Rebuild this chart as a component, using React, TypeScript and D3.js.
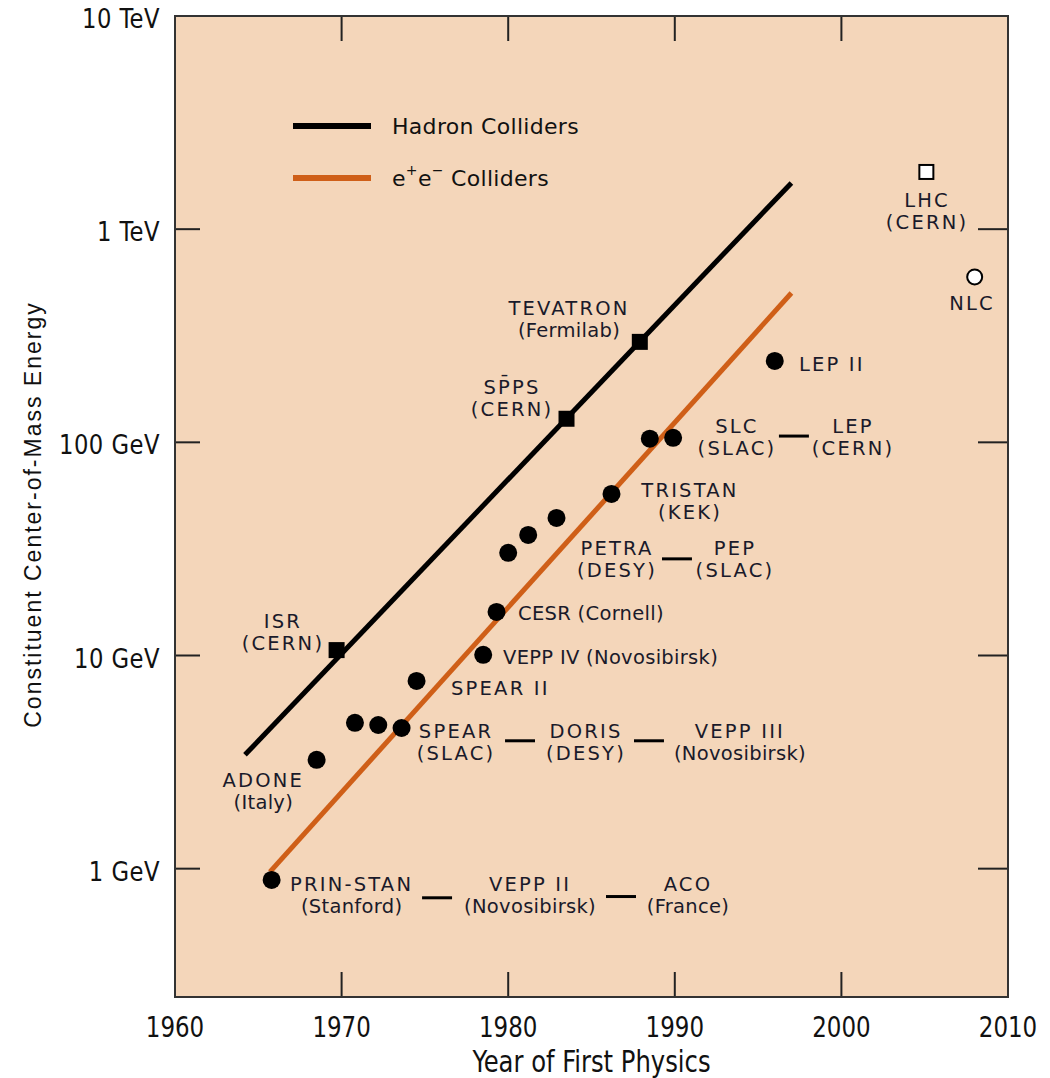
import React, { useEffect } from "react";
import * as d3 from "d3";

// ---------- data ----------
const yearTicks = [1960, 1970, 1980, 1990, 2000, 2010];
const energyTicks = [1, 10, 100, 1000, 10000];
const energyTickLabels = ["1 GeV", "10 GeV", "100 GeV", "1 TeV", "10 TeV"];

// fitted trend lines [year, GeV]
const hadronTrend: [number, number][] = [[1964.2, 3.42], [1997.0, 1648]];
const eeTrend: [number, number][] = [[1965.7, 0.966], [1997.0, 502]];

// hadron colliders (filled squares)
const hadronNames = ["ISR", "SPPS", "TEVATRON"];
const hadronYears = [1969.7, 1983.5, 1987.9];
const hadronEnergies = [10.6, 129, 296];

// e+e- colliders (filled circles)
const eeNames = ["PRIN-STAN", "ADONE", "VEPP II", "ACO", "SPEAR", "SPEAR II", "VEPP IV", "CESR", "PETRA", "PEP", "DORIS", "TRISTAN", "SLC", "LEP", "LEP II"];
const eeYears = [1965.8, 1968.5, 1970.8, 1972.2, 1973.6, 1974.5, 1978.5, 1979.3, 1980.0, 1981.2, 1982.9, 1986.2, 1988.5, 1989.9, 1996.0];
const eeEnergies = [0.885, 3.24, 4.83, 4.72, 4.57, 7.6, 10.07, 16.0, 30.3, 36.8, 44.2, 57.3, 104, 105, 241];

// future machines (open markers)
const lhc = { year: 2005.1, gev: 1855 };
const nlc = { year: 2008.0, gev: 597 };

// text annotations in data coordinates (year, GeV)
const labels: { lines: string[]; year: number; gev: number; anchor: string }[] = [
  { lines: ["TEVATRON", "(Fermilab)"], year: 1983.65, gev: 375, anchor: "middle" },
  { lines: ["SP\u0304PS", "(CERN)"], year: 1980.23, gev: 161, anchor: "middle" },
  { lines: ["ISR", "(CERN)"], year: 1966.48, gev: 12.8, anchor: "middle" },
  { lines: ["ADONE", "(Italy)"], year: 1965.3, gev: 2.29, anchor: "middle" },
  { lines: ["LHC", "(CERN)"], year: 2005.14, gev: 1205, anchor: "middle" },
  { lines: ["NLC"], year: 2007.84, gev: 446, anchor: "middle" },
  { lines: ["LEP II"], year: 1997.45, gev: 233, anchor: "start" },
  { lines: ["SLC", "(SLAC)"], year: 1993.73, gev: 105, anchor: "middle" },
  { lines: ["LEP", "(CERN)"], year: 2000.7, gev: 105, anchor: "middle" },
  { lines: ["TRISTAN", "(KEK)"], year: 1990.91, gev: 52.5, anchor: "middle" },
  { lines: ["PETRA", "(DESY)"], year: 1986.53, gev: 28.1, anchor: "middle" },
  { lines: ["PEP", "(SLAC)"], year: 1993.61, gev: 28.1, anchor: "middle" },
  { lines: ["CESR (Cornell)"], year: 1980.59, gev: 15.7, anchor: "start" },
  { lines: ["VEPP IV (Novosibirsk)"], year: 1979.69, gev: 9.75, anchor: "start" },
  { lines: ["SPEAR II"], year: 1976.57, gev: 6.97, anchor: "start" },
  { lines: ["SPEAR", "(SLAC)"], year: 1976.87, gev: 3.89, anchor: "middle" },
  { lines: ["DORIS", "(DESY)"], year: 1984.67, gev: 3.89, anchor: "middle" },
  { lines: ["VEPP III", "(Novosibirsk)"], year: 1993.91, gev: 3.89, anchor: "middle" },
  { lines: ["PRIN-STAN", "(Stanford)"], year: 1970.6, gev: 0.745, anchor: "middle" },
  { lines: ["VEPP II", "(Novosibirsk)"], year: 1981.31, gev: 0.745, anchor: "middle" },
  { lines: ["ACO", "(France)"], year: 1990.79, gev: 0.745, anchor: "middle" },
];

// "same-generation" connector dashes [yearStart, yearEnd, GeV]
const dashes: [number, number, number][] = [
  [1996.25, 1998.05, 107],
  [1989.23, 1991.03, 28.4],
  [1979.81, 1981.61, 3.98],
  [1987.55, 1989.35, 3.98],
  [1974.83, 1976.63, 0.73],
  [1985.87, 1987.67, 0.74],
];

const legendItems = [
  { key: "hadron", color: "#000000" },
  { key: "ee", color: "#CF5F18" },
];

// ---------- chart ----------
const W = 1050;
const H = 1078;
const M = { left: 175, right: 42, top: 16, bottom: 81 };
const BG = "#F4D6BA";
const ORANGE = "#CF5F18";
const LABEL_FONT = "'DejaVu Sans', Verdana, sans-serif";
const AXIS_FONT = "'Liberation Sans Narrow', 'DejaVu Sans Condensed', 'Liberation Sans', sans-serif";

export default function App() {
  useEffect(() => {
    document.body.style.margin = "0";
  }, []);

  const x = d3.scaleLinear().domain([1960, 2010]).range([M.left, W - M.right]);
  const y = d3.scaleLog().domain([0.25, 10000]).range([H - M.bottom, M.top]);
  const line = d3
    .line<[number, number]>()
    .x((d) => x(d[0]))
    .y((d) => y(d[1]));

  const x0 = M.left, x1 = W - M.right, y0 = M.top, y1 = H - M.bottom;
  const tickLen = 25;

  const isCaps = (s: string) => s === s.toUpperCase();

  return (
    <svg width={W} height={H} style={{ display: "block", background: "#fff" }}>
      <rect x={x0} y={y0} width={x1 - x0} height={y1 - y0} fill={BG} />

      {/* ticks */}
      {yearTicks.slice(1, -1).map((t) => (
        <g key={"xt" + t} stroke="#222" strokeWidth={2}>
          <line x1={x(t)} x2={x(t)} y1={y1} y2={y1 - tickLen} />
          <line x1={x(t)} x2={x(t)} y1={y0} y2={y0 + tickLen} />
        </g>
      ))}
      {energyTicks.slice(0, -1).map((t) => (
        <g key={"yt" + t} stroke="#222" strokeWidth={2}>
          <line x1={x0} x2={x0 + tickLen} y1={y(t)} y2={y(t)} />
          <line x1={x1} x2={x1 - tickLen - 5} y1={y(t)} y2={y(t)} />
        </g>
      ))}

      {/* frame */}
      <rect x={x0} y={y0} width={x1 - x0} height={y1 - y0} fill="none" stroke="#333" strokeWidth={2} />

      {/* tick labels */}
      {yearTicks.map((t) => (
        <g key={"xl" + t} transform={`translate(${x(t)}, ${y1 + 40}) scale(0.88, 1)`}>
          <text x={0} y={0} textAnchor="middle" fontFamily={AXIS_FONT} fontSize={29} fill="#111">
            {t}
          </text>
        </g>
      ))}
      {energyTicks.map((t, i) => (
        <g key={"yl" + t} transform={`translate(${x0 - 15}, ${y(t) + 3}) scale(0.97, 1)`}>
          <text x={0} y={0} textAnchor="end" dominantBaseline="central" fontFamily={AXIS_FONT} fontSize={26} letterSpacing={0.5} fill="#111">
            {energyTickLabels[i]}
          </text>
        </g>
      ))}

      {/* axis titles */}
      <g transform={`translate(${(x0 + x1) / 2}, ${H - 6}) scale(0.9, 1)`}>
        <text x={0} y={0} textAnchor="middle" fontFamily={AXIS_FONT} fontSize={30} fill="#111">
          Year of First Physics
        </text>
      </g>
      <text
        transform={`translate(41, ${(y0 + y1) / 2 + 8}) rotate(-90)`}
        textAnchor="middle"
        fontFamily="'Liberation Sans', Arial, sans-serif"
        fontSize={23}
        letterSpacing={2}
        fill="#111"
      >
        Constituent Center-of-Mass Energy
      </text>

      {/* trend lines */}
      <path d={line(hadronTrend) || ""} stroke="#000" strokeWidth={5} fill="none" />
      <path d={line(eeTrend) || ""} stroke={ORANGE} strokeWidth={5} fill="none" />

      {/* legend */}
      {legendItems.map((it, i) => (
        <g key={it.key} transform={`translate(293, ${126 + i * 52})`}>
          <line x1={0} x2={78} y1={0} y2={0} stroke={it.color} strokeWidth={6} />
          <text x={99} y={0} dominantBaseline="central" fontFamily={LABEL_FONT} fontSize={22} letterSpacing={0.3} fill="#111">
            {it.key === "hadron" ? (
              "Hadron Colliders"
            ) : (
              <>
                <tspan>e</tspan>
                <tspan dy={-8} fontSize={14}>+</tspan>
                <tspan dy={8}>e</tspan>
                <tspan dy={-8} fontSize={14}>{"\u2212"}</tspan>
                <tspan dy={8}> Colliders</tspan>
              </>
            )}
          </text>
        </g>
      ))}

      {/* connector dashes */}
      {dashes.map((d, i) => (
        <line key={"ds" + i} x1={x(d[0])} x2={x(d[1])} y1={y(d[2])} y2={y(d[2])} stroke="#000" strokeWidth={3} />
      ))}

      {/* e+e- points */}
      {eeYears.map((yr, i) => (
        <circle key={"ee" + i} cx={x(yr)} cy={y(eeEnergies[i])} r={9} fill="#000" />
      ))}
      {/* hadron points */}
      {hadronYears.map((yr, i) => (
        <rect key={"h" + i} x={x(yr) - 8} y={y(hadronEnergies[i]) - 8} width={16} height={16} fill="#000" />
      ))}
      {/* future */}
      <rect x={x(lhc.year) - 7} y={y(lhc.gev) - 7} width={14} height={14} fill="#fff" stroke="#000" strokeWidth={2} />
      <circle cx={x(nlc.year)} cy={y(nlc.gev)} r={7.5} fill="#fff" stroke="#000" strokeWidth={2} />

      {/* labels */}
      {labels.map((lb, i) => {
        const cx = x(lb.year);
        const cy = y(lb.gev);
        const n = lb.lines.length;
        return (
          <g key={"lb" + i}>
            {lb.lines.map((s, j) => (
              <text
                key={j}
                x={cx}
                y={cy + (j - (n - 1) / 2) * 22}
                textAnchor={lb.anchor}
                dominantBaseline="central"
                fontFamily={LABEL_FONT}
                fontSize={19.5}
                letterSpacing={isCaps(s) ? 2.2 : 0.3}
                fill="#1a1a2a"
              >
                {s}
              </text>
            ))}
          </g>
        );
      })}
    </svg>
  );
}
